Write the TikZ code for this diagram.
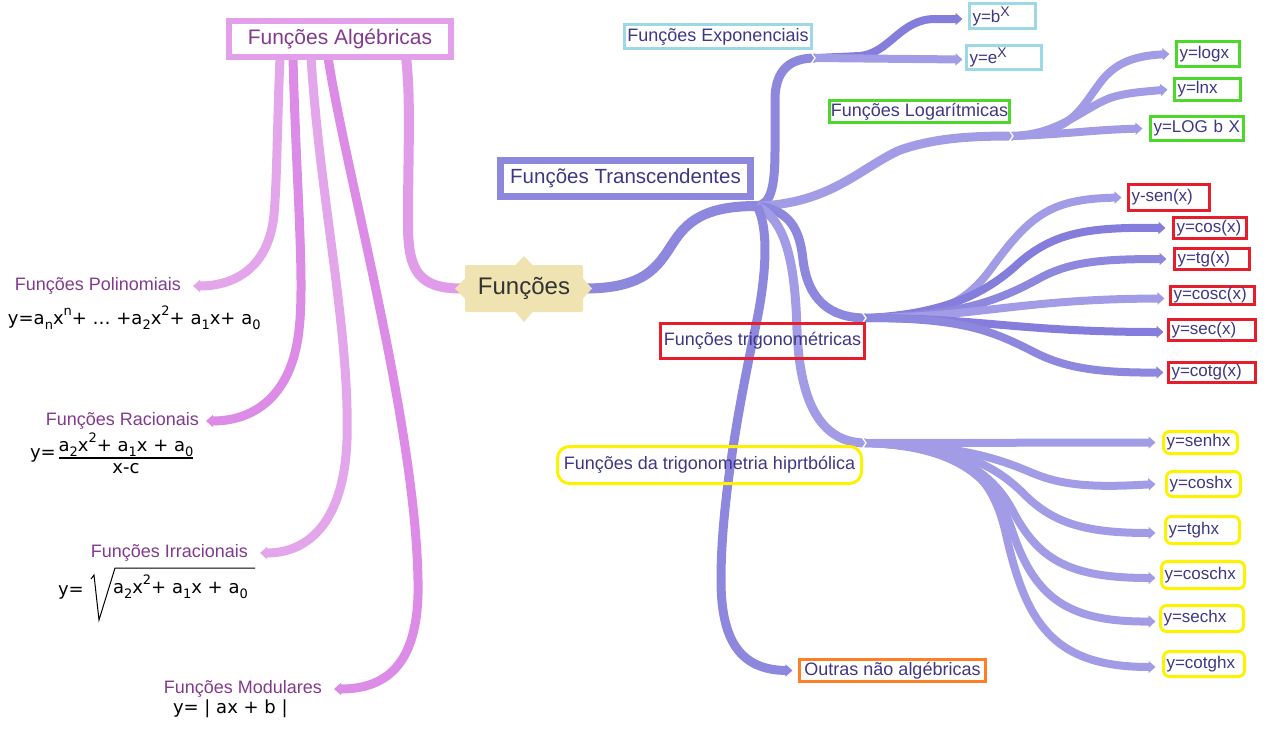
\documentclass[tikz,border=0pt]{standalone}
\usepackage{fontspec}
\setmainfont{Liberation Sans}
\newfontfamily\ff{DejaVu Sans}
\usetikzlibrary{arrows.meta}
\pgfdeclarelayer{bg}
\pgfsetlayers{bg,main}
\definecolor{pkL}{HTML}{E3A6EB}
\definecolor{pkD}{HTML}{DC8CE6}
\definecolor{pkM}{HTML}{E09CE9}
\definecolor{pkBox}{HTML}{E3A0EA}
\definecolor{pkTxt}{HTML}{823A8F}
\definecolor{puM}{HTML}{8E87DE}
\definecolor{puL}{HTML}{A29CE7}
\definecolor{puD}{HTML}{847DDB}
\definecolor{puT}{HTML}{3E3784}
\definecolor{beige}{HTML}{EFE3B1}
\definecolor{cyanB}{HTML}{9DD8E7}
\definecolor{greenB}{HTML}{4CD92A}
\definecolor{redB}{HTML}{E61E2B}
\definecolor{yelB}{HTML}{FFF200}
\definecolor{orB}{HTML}{FF7F27}
\newcommand\sbx[1]{\raisebox{-5pt}{\fontsize{13}{13}\selectfont#1}}
\newcommand\spx[1]{\raisebox{9pt}{\fontsize{13}{13}\selectfont#1}}
\begin{document}
\begin{tikzpicture}[x=1pt,y=-1pt,
  every node/.style={inner sep=0pt, outer sep=0pt},
  brn/.style={line width=#1, line cap=butt},
  tipd/.style={-{Triangle[length=7pt,width=12pt]}},
  lbl/.style={font=\fontsize{18}{21}\selectfont, text=pkTxt},
  frm/.style={font=\ff\fontsize{18}{21}\selectfont, text=black},
  mbox/.style={draw, font=\fontsize{18}{21}\selectfont, text=puT},
  leaf/.style={draw, line width=3pt, font=\fontsize{17}{20}\selectfont, text=puT, align=left, inner xsep=3pt},
  hleaf/.style={leaf, draw=yelB, rounded corners=6pt},
  chev/.style={draw=white, line width=1.3pt}
]
\useasboundingbox (0,0) rectangle (1272,732);

% ---------- nodes ----------
\node[mbox, draw=pkBox, line width=6pt, text=pkTxt, font=\fontsize{21}{25}\selectfont, minimum width=222pt, minimum height=36pt] (alg) at (340,39) {Funções Algébricas};
\node[mbox, draw=puM, line width=7pt, font=\fontsize{20.5}{24}\selectfont, minimum width=250pt, minimum height=36pt] (trans) at (625.5,178.5) {Funções Transcendentes};
\node[mbox, draw=cyanB, line width=3pt, minimum width=187pt, minimum height=24pt] (exp) at (718,36.5) {Funções Exponenciais};
\node[mbox, draw=greenB, line width=3pt, minimum width=180pt, minimum height=22pt] (log) at (919.5,111.5) {Funções Logarítmicas};
\node[mbox, draw=redB, line width=3pt, minimum width=204pt, minimum height=35pt] (trig) at (762.5,341) {Funções trigonométricas};
\node[mbox, draw=yelB, line width=3pt, rounded corners=12pt, minimum width=304pt, minimum height=37pt] (hyp) at (709.5,465) {Funções da trigonometria hiprtbólica};
\node[mbox, draw=orB, line width=3pt, minimum width=186pt, minimum height=22pt] (outr) at (892.5,670.5) {Outras não algébricas};

\node[leaf, draw=cyanB, text width=60pt, minimum height=25pt] (bx) at (1002.5,16) {y=b\raisebox{6pt}{\fontsize{14}{14}\selectfont X}};
\node[leaf, draw=cyanB, text width=69pt, minimum height=24pt] (ex) at (1004,57.5) {y=e\raisebox{6pt}{\fontsize{14}{14}\selectfont X}};
\node[leaf, draw=greenB, text width=57pt, minimum height=25pt] (logx) at (1208,54) {y=logx};
\node[leaf, draw=greenB, text width=60pt, minimum height=22pt] (lnx) at (1207.5,89.5) {y=lnx};
\node[leaf, draw=greenB, text width=87pt, minimum height=24pt] (logb) at (1197,128.5) {y=LOG b X};
\node[leaf, draw=redB, text width=75pt, minimum height=26pt] (sen) at (1169,197.5) {y-sen(x)};
\node[leaf, draw=redB, text width=67pt, minimum height=21pt] (cos) at (1210,228) {y=cos(x)};
\node[leaf, draw=redB, text width=69pt, minimum height=21pt] (tg) at (1212,259) {y=tg(x)};
\node[leaf, draw=redB, text width=78pt, minimum height=18pt] (cosc) at (1212.5,295.5) {y=cosc(x)};
\node[leaf, draw=redB, text width=81pt, minimum height=21pt] (sec) at (1212,330) {y=sec(x)};
\node[leaf, draw=redB, text width=81pt, minimum height=20pt] (cotg) at (1212,372.5) {y=cotg(x)};
\node[hleaf, text width=68pt, minimum height=22pt] (senhx) at (1200.5,442.5) {y=senhx};
\node[hleaf, text width=68pt, minimum height=25pt] (coshx) at (1203.5,484) {y=coshx};
\node[hleaf, text width=68pt, minimum height=27pt] (tghx) at (1202.5,530) {y=tghx};
\node[hleaf, text width=77pt, minimum height=27pt] (coschx) at (1203,575) {y=coschx};
\node[hleaf, text width=77pt, minimum height=26pt] (sechx) at (1202,618.5) {y=sechx};
\node[hleaf, text width=75pt, minimum height=25pt] (cotghx) at (1204,664) {y=cotghx};

% centre node
\node[fill=beige, rounded corners=2pt, minimum width=118pt, minimum height=47pt, font=\fontsize{24}{28}\selectfont, text=black!80] (fun) at (524,288.5) {Funções};
\fill[beige] ([xshift=-8.5pt]fun.north) -- ++(8.5,-9) -- ++(8.5,9) -- cycle;
\fill[beige] ([xshift=-8.5pt]fun.south) -- ++(8.5,10) -- ++(8.5,-10) -- cycle;
\fill[beige] ([yshift=10pt]fun.west) -- ++(-10,10) -- ++(10,10) -- cycle;
\fill[beige] ([yshift=10pt]fun.east) -- ++(9,10) -- ++(-9,10) -- cycle;

% left labels and formulas
\node[lbl, anchor=east] (pol) at (181,286) {Funções Polinomiais};
\node[lbl, anchor=east] (rac) at (199,421) {Funções Racionais};
\node[lbl, anchor=east] (irr) at (248,553) {Funções Irracionais};
\node[lbl, anchor=east] (mod) at (322,689) {Funções Modulares};

\node[frm, anchor=west] (f1) at (8,318) {y=a\sbx{n}x\spx{n}+ … +a\sbx{2}x\spx{2}+ a\sbx{1}x+ a\sbx{0}};
\node[frm, anchor=west] (f2y) at (30,455) {y=};
\node[frm] (f2) at (126,456) {\setlength\arrayrulewidth{1.2pt}\begin{tabular}{@{}c@{}}a\sbx{2}x\spx{2}+ a\sbx{1}x + a\sbx{0}\\\hline x-c\end{tabular}};
\node[frm, anchor=west] (f3y) at (58,592) {y=};
\node[frm, anchor=west] (f3) at (113,587) {a\sbx{2}x\spx{2}+ a\sbx{1}x + a\sbx{0}};
\draw[line width=1pt] (91,579) -- (94,575) -- (99,620) -- (115,568) -- (255,568);
\node[frm, anchor=west] (f4) at (173,709) {y= | ax + b |};

% ---------- connectors ----------
\coordinate (hubT) at (757,206);
\coordinate (hubE) at (815,58);
\coordinate (hubL) at (1013,136);
\coordinate (hubR) at (866,318);
\coordinate (hubH) at (866,443);

\begin{pgfonlayer}{bg}
% pink
\draw[brn=10pt, pkM] ([xshift=-5pt]fun.west) .. controls (420,288) and (408,272) .. (408,225) .. controls (408,150) and (411,100) .. ([xshift=66pt]alg.south);
\draw[brn=9pt, pkL, tipd] ([xshift=-60pt]alg.south) .. controls (277,130) and (277,180) .. (274,215) .. controls (268,272) and (230,286) .. ([xshift=12pt]pol.east);
\draw[brn=9pt, pkD, tipd] ([xshift=-47pt]alg.south) .. controls (296,180) and (305,280) .. (299,330) .. controls (292,395) and (255,421) .. ([xshift=7pt]rac.east);
\draw[brn=9pt, pkL, tipd] ([xshift=-29pt]alg.south) .. controls (320,200) and (350,330) .. (347,440) .. controls (344,520) and (310,553) .. ([xshift=12pt]irr.east);
\draw[brn=9pt, pkD, tipd] ([xshift=-12pt]alg.south) .. controls (345,170) and (415,420) .. (418,580) .. controls (420,660) and (390,689) .. ([xshift=12pt]mod.east);

% purple main
\draw[brn=10pt, puM] ([xshift=4pt]fun.east) .. controls (650,288) and (660,262) .. (675,240) .. controls (690,218) and (710,206) .. (hubT);
% exponential
\draw[brn=9pt, puM] (hubT) .. controls (770,204) and (775,190) .. (775,150) -- (775,100) .. controls (775,70) and (790,58) .. (hubE);
\draw[brn=8pt, puD, tipd] (hubE) -- (860,56) .. controls (890,53) and (900,19) .. (935,19) -- ([xshift=-7pt,yshift=-3pt]bx.west);
\draw[brn=8pt, puL, tipd] (hubE) -- ([xshift=-4pt,yshift=-2pt]ex.west);
% logarithmic
\draw[brn=9pt, puL] (hubT) .. controls (830,204) and (860,168) .. (900,150) .. controls (935,138) and (970,136) .. (hubL);
\draw[brn=8pt, puL, tipd] (hubL) .. controls (1070,134) and (1080,110) .. (1097,87) .. controls (1112,65) and (1130,56) .. ([xshift=-7pt]logx.west);
\draw[brn=8pt, puL, tipd] (hubL) .. controls (1060,134) and (1080,110) .. (1110,98) .. controls (1125,93) and (1140,92) .. ([xshift=-7pt]lnx.west);
\draw[brn=8pt, puL, tipd] (hubL) .. controls (1070,134) and (1090,130) .. ([xshift=-8pt]logb.west);
% trigonometric
\draw[brn=9pt, puM] (hubT) .. controls (790,210) and (800,230) .. (803,260) .. controls (808,300) and (830,318) .. (hubR);
\draw[brn=8pt, puL, tipd] (hubR) .. controls (930,316) and (960,310) .. (990,270) .. controls (1030,215) and (1050,199) .. ([xshift=-7pt]sen.west);
\draw[brn=8pt, puD, tipd] (hubR) .. controls (950,314) and (990,290) .. (1020,262) .. controls (1055,232) and (1090,227) .. ([xshift=-8pt]cos.west);
\draw[brn=8pt, puM, tipd] (hubR) .. controls (960,316) and (1000,300) .. (1040,278) .. controls (1070,262) and (1100,259) .. ([xshift=-8pt]tg.west);
\draw[brn=8pt, puL, tipd] (hubR) .. controls (980,317) and (1020,299) .. ([xshift=-6pt,yshift=-3pt]cosc.west);
\draw[brn=8pt, puD, tipd] (hubR) .. controls (980,318) and (1020,332) .. ([xshift=-5pt,yshift=-2pt]sec.west);
\draw[brn=8pt, puM, tipd] (hubR) .. controls (960,318) and (990,330) .. (1030,350) .. controls (1060,366) and (1090,373) .. ([xshift=-5pt]cotg.west);
% hyperbolic
\draw[brn=9pt, puL] (hubT) .. controls (785,220) and (795,260) .. (797,330) .. controls (800,410) and (825,443) .. (hubH);
\draw[brn=8pt, puL, tipd] (hubH) -- ([xshift=-8pt]senhx.west);
\draw[brn=8pt, puL, tipd] (hubH) .. controls (950,445) and (990,455) .. (1030,472) .. controls (1060,485) and (1090,488) .. ([xshift=-11pt]coshx.west);
\draw[brn=8pt, puL, tipd] (hubH) .. controls (960,446) and (995,465) .. (1025,495) .. controls (1055,525) and (1090,533) .. ([xshift=-10pt,yshift=-3pt]tghx.west);
\draw[brn=8pt, puL, tipd] (hubH) .. controls (960,446) and (995,475) .. (1015,515) .. controls (1040,560) and (1070,578) .. ([xshift=-6pt,yshift=-3pt]coschx.west);
\draw[brn=8pt, puL, tipd] (hubH) .. controls (960,446) and (995,480) .. (1012,530) .. controls (1035,600) and (1070,622) .. ([xshift=-5pt,yshift=-3pt]sechx.west);
\draw[brn=8pt, puL, tipd] (hubH) .. controls (960,446) and (990,470) .. (1005,530) .. controls (1025,620) and (1050,667) .. ([xshift=-8pt,yshift=-3pt]cotghx.west);
% others
\draw[brn=9pt, puM, tipd] (hubT) .. controls (770,230) and (765,280) .. (757,320) .. controls (740,400) and (721,500) .. (721,580) .. controls (721,640) and (740,670) .. ([xshift=-7pt]outr.west);
% junction chevrons
\draw[chev] ([shift={(-4,-6)}]hubE) -- (hubE) -- ([shift={(-4,6)}]hubE);
\draw[chev] ([shift={(-4,-6)}]hubL) -- (hubL) -- ([shift={(-4,6)}]hubL);
\draw[chev] ([shift={(-4,-6)}]hubR) -- (hubR) -- ([shift={(-4,6)}]hubR);
\draw[chev] ([shift={(-4,-6)}]hubH) -- (hubH) -- ([shift={(-4,6)}]hubH);
\end{pgfonlayer}
\end{tikzpicture}
\end{document}
